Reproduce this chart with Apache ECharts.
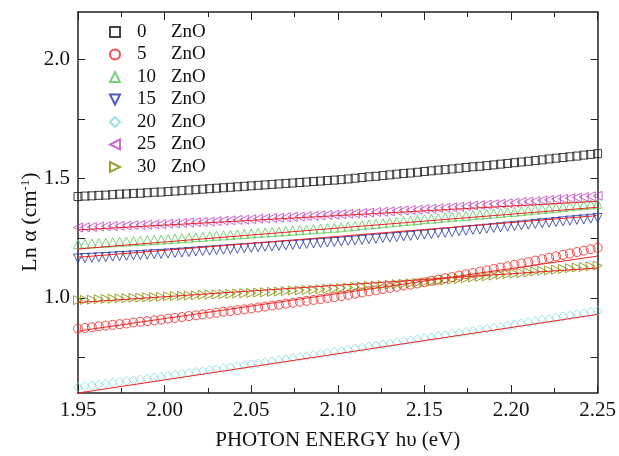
<!DOCTYPE html>
<html>
<head>
<meta charset="utf-8">
<script src="https://cdn.jsdelivr.net/npm/echarts@6/dist/echarts.min.js"></script>
<style>
  html, body { margin: 0; padding: 0; background: #fff; }
  #chart { width: 619px; height: 456px; }
</style>
</head>
<body>
<div id="chart"></div>
<script>
// photon energy (eV)
const energy = [
  1.950,1.954,1.958,1.962,1.966,1.970,1.974,1.978,1.982,1.986,1.990,1.994,1.998,
  2.002,2.006,2.010,2.014,2.018,2.022,2.026,2.030,2.034,2.038,2.042,2.046,
  2.050,2.054,2.058,2.062,2.066,2.070,2.074,2.078,2.082,2.086,2.090,2.094,2.098,
  2.102,2.106,2.110,2.114,2.118,2.122,2.126,2.130,2.134,2.138,2.142,2.146,
  2.150,2.154,2.158,2.162,2.166,2.170,2.174,2.178,2.182,2.186,2.190,2.194,2.198,
  2.202,2.206,2.210,2.214,2.218,2.222,2.226,2.230,2.234,2.238,2.242,2.246,2.250
];

const zno0 = [
  1.425,1.427,1.428,1.430,1.431,1.433,1.435,1.436,1.438,1.439,1.441,1.443,1.444,
  1.446,1.448,1.450,1.452,1.454,1.456,1.458,1.460,1.462,1.464,1.466,1.468,
  1.470,1.472,1.474,1.476,1.478,1.480,1.482,1.484,1.486,1.488,1.490,1.492,1.494,
  1.496,1.499,1.502,1.505,1.508,1.510,1.513,1.516,1.519,1.522,1.524,1.527,
  1.530,1.533,1.536,1.538,1.541,1.544,1.547,1.550,1.552,1.555,1.558,1.561,1.564,
  1.567,1.570,1.573,1.576,1.579,1.583,1.586,1.589,1.592,1.595,1.599,1.602,1.605
];
const zno5 = [
  0.870,0.873,0.876,0.880,0.883,0.886,0.889,0.892,0.896,0.899,0.902,0.905,0.908,
  0.912,0.915,0.919,0.923,0.926,0.930,0.933,0.937,0.941,0.944,0.948,0.951,
  0.955,0.959,0.963,0.967,0.971,0.975,0.979,0.983,0.987,0.991,0.995,0.999,1.003,
  1.007,1.012,1.017,1.022,1.027,1.031,1.036,1.041,1.046,1.051,1.055,1.060,
  1.065,1.071,1.076,1.082,1.087,1.093,1.099,1.104,1.110,1.115,1.121,1.127,1.132,
  1.138,1.144,1.150,1.156,1.162,1.168,1.174,1.180,1.186,1.192,1.198,1.204,1.210
];
const zno10 = [
  1.225,1.227,1.228,1.230,1.231,1.233,1.235,1.236,1.238,1.239,1.241,1.243,1.244,
  1.246,1.248,1.250,1.252,1.254,1.256,1.258,1.260,1.262,1.264,1.266,1.268,
  1.270,1.272,1.274,1.276,1.278,1.280,1.282,1.284,1.286,1.288,1.290,1.292,1.294,
  1.296,1.299,1.302,1.305,1.308,1.310,1.313,1.316,1.319,1.322,1.324,1.327,
  1.330,1.332,1.335,1.337,1.340,1.342,1.344,1.347,1.349,1.352,1.354,1.356,1.359,
  1.361,1.364,1.367,1.370,1.373,1.375,1.378,1.381,1.384,1.387,1.389,1.392,1.395
];
const zno15 = [
  1.165,1.167,1.168,1.170,1.171,1.173,1.175,1.176,1.178,1.179,1.181,1.183,1.184,
  1.186,1.188,1.190,1.192,1.194,1.196,1.198,1.200,1.202,1.204,1.206,1.208,
  1.210,1.212,1.214,1.216,1.218,1.220,1.222,1.224,1.226,1.228,1.230,1.232,1.234,
  1.236,1.239,1.241,1.243,1.246,1.248,1.251,1.253,1.255,1.258,1.260,1.263,
  1.265,1.268,1.271,1.273,1.276,1.279,1.282,1.285,1.287,1.290,1.293,1.296,1.299,
  1.301,1.304,1.307,1.310,1.313,1.315,1.318,1.321,1.324,1.327,1.329,1.332,1.335
];
const zno20 = [
  0.625,0.629,0.632,0.636,0.639,0.643,0.647,0.650,0.654,0.657,0.661,0.665,0.668,
  0.672,0.676,0.680,0.684,0.688,0.692,0.696,0.700,0.704,0.708,0.712,0.716,
  0.720,0.724,0.729,0.733,0.738,0.742,0.746,0.751,0.755,0.760,0.764,0.768,0.772,
  0.777,0.782,0.786,0.790,0.795,0.799,0.804,0.808,0.812,0.817,0.821,0.826,
  0.830,0.834,0.839,0.843,0.848,0.852,0.856,0.861,0.865,0.870,0.874,0.878,0.883,
  0.887,0.892,0.897,0.902,0.907,0.911,0.916,0.921,0.926,0.931,0.935,0.940,0.945
];
const zno25 = [
  1.295,1.296,1.297,1.299,1.300,1.301,1.302,1.303,1.305,1.306,1.307,1.308,1.309,
  1.311,1.312,1.314,1.316,1.317,1.319,1.320,1.322,1.324,1.325,1.327,1.328,
  1.330,1.332,1.333,1.335,1.336,1.338,1.340,1.341,1.343,1.344,1.346,1.348,1.349,
  1.351,1.353,1.354,1.356,1.358,1.360,1.361,1.363,1.365,1.367,1.369,1.370,
  1.372,1.374,1.376,1.378,1.380,1.382,1.384,1.387,1.389,1.391,1.393,1.395,1.397,
  1.399,1.402,1.404,1.406,1.409,1.411,1.414,1.416,1.418,1.421,1.423,1.426,1.428
];
const zno30 = [
  0.990,0.991,0.992,0.994,0.995,0.996,0.997,0.998,1.000,1.001,1.002,1.003,1.004,
  1.006,1.007,1.008,1.009,1.010,1.012,1.013,1.014,1.015,1.016,1.018,1.019,
  1.020,1.022,1.023,1.025,1.026,1.028,1.030,1.031,1.033,1.034,1.036,1.038,1.039,
  1.041,1.043,1.045,1.047,1.049,1.051,1.053,1.055,1.057,1.059,1.061,1.063,
  1.065,1.068,1.071,1.073,1.076,1.079,1.082,1.085,1.087,1.090,1.093,1.096,1.099,
  1.101,1.104,1.107,1.110,1.113,1.115,1.118,1.121,1.124,1.127,1.129,1.132,1.135
];

// linear fits: value at 1.95 eV and at 2.25 eV (none drawn for 0 ZnO)
const fitX = [1.95, 2.25];
const fitStart = [null, 0.860, 1.205, 1.170, 0.600, 1.285, 0.980];
const fitEnd   = [null, 1.175, 1.380, 1.345, 0.930, 1.405, 1.125];

const yTicks = [0.75, 1.0, 1.25, 1.5, 1.75, 2.0];
const yLabels = [1.0, 1.5, 2.0];

const names = ['0', '5', '10', '15', '20', '25', '30'];
const values = [zno0, zno5, zno10, zno15, zno20, zno25, zno30];
const colors = ['#111111', '#ee2222', '#55c855', '#2233aa', '#7fdcdc', '#c040c0', '#888800'];
const symbols = ['rect', 'circle', 'triangle', 'triangle', 'diamond', 'triangle', 'triangle'];
const rotations = [0, 0, 0, 180, 0, 90, -90];
const legendIcons = ['rect', 'circle', 'triangle',
  'path://M0,0L10,0L5,10Z', 'diamond',
  'path://M10,0L0,5L10,10Z', 'path://M0,0L10,5L0,10Z'];
const sizes = [8, 9, 9, 9, 9, 9, 9];

const font = 'Liberation Serif, Times New Roman, serif';

const series = [];
names.forEach((n, i) => {
  series.push({
    name: n,
    type: 'scatter',
    data: energy.map((x, j) => [x, values[i][j]]),
    symbol: symbols[i],
    symbolRotate: rotations[i],
    symbolSize: sizes[i],
    itemStyle: { color: 'rgba(0,0,0,0)', borderColor: colors[i], borderWidth: 1 },
    emphasis: { disabled: true },
    z: 2
  });
});
names.forEach((n, i) => {
  if (fitStart[i] === null) return;
  series.push({
    name: 'fit' + n,
    type: 'line',
    data: [[fitX[0], fitStart[i]], [fitX[1], fitEnd[i]]],
    showSymbol: false,
    lineStyle: { color: '#ee2222', width: 1 },
    emphasis: { disabled: true },
    z: 3
  });
});

const chart = echarts.init(document.getElementById('chart'));

const tickStyle = { color: '#222', width: 1 };
const axisLine = { onZero: false, lineStyle: { color: '#222', width: 1.5 } };

chart.setOption({
  animation: false,
  backgroundColor: '#fff',
  grid: { left: 78, right: 20, top: 12, bottom: 58 },
  // y axis title, placed by hand so it can sit a little below the middle
  graphic: [{
    type: 'text',
    x: 30,
    y: 222,
    rotation: Math.PI / 2,
    style: {
      text: '{t|Ln \u03b1 (cm}{s|-1}{t|)}',
      align: 'center',
      verticalAlign: 'middle',
      rich: {
        t: { fontFamily: font, fontSize: 22, fill: '#111' },
        s: { fontFamily: font, fontSize: 13, fill: '#111', verticalAlign: 'top', padding: [0, 0, 9, 0] }
      }
    }
  }],
  legend: {
    data: names.map((n, i) => ({ name: n, icon: legendIcons[i] })),
    orient: 'vertical',
    left: 104,
    top: 17,
    itemWidth: 10,
    itemHeight: 10,
    itemGap: 2.5,
    selectedMode: false,
    formatter: name => '{a|' + name + '}{b|ZnO}',
    textStyle: {
      fontFamily: font,
      fontSize: 19,
      color: '#111',
      lineHeight: 20,
      rich: {
        a: { fontFamily: font, fontSize: 19, width: 34, padding: [0, 0, 0, 12] },
        b: { fontFamily: font, fontSize: 19 }
      }
    }
  },
  xAxis: [
    {
      type: 'value',
      min: 1.95,
      max: 2.25,
      interval: 0.05,
      position: 'bottom',
      name: 'PHOTON ENERGY h\u03c5 (eV)',
      nameLocation: 'middle',
      nameGap: 37,
      nameTextStyle: { fontFamily: font, fontSize: 21, color: '#111' },
      axisLine: axisLine,
      axisTick: { inside: true, length: 8, lineStyle: tickStyle },
      minorTick: { show: true, splitNumber: 2, length: 5, lineStyle: tickStyle },
      axisLabel: {
        fontFamily: font, fontSize: 21, color: '#111', margin: 7,
        formatter: v => v.toFixed(2)
      },
      splitLine: { show: false }
    },
    {
      type: 'value',
      min: 1.95,
      max: 2.25,
      interval: 0.05,
      position: 'top',
      axisLine: axisLine,
      axisTick: { inside: true, length: 8, lineStyle: tickStyle },
      minorTick: { show: true, splitNumber: 2, length: 5, lineStyle: tickStyle },
      axisLabel: { show: false },
      splitLine: { show: false }
    }
  ],
  yAxis: [
    {
      type: 'value',
      min: 0.6,
      max: 2.2,
      position: 'left',
      axisLine: axisLine,
      axisTick: { inside: true, length: 7, lineStyle: tickStyle, customValues: yTicks },
      axisLabel: {
        fontFamily: font, fontSize: 21, color: '#111', margin: 8,
        customValues: yLabels,
        formatter: v => v.toFixed(1)
      },
      splitLine: { show: false }
    },
    {
      type: 'value',
      min: 0.6,
      max: 2.2,
      position: 'right',
      axisLine: axisLine,
      axisTick: { inside: true, length: 7, lineStyle: tickStyle, customValues: yTicks },
      axisLabel: { show: false },
      splitLine: { show: false }
    }
  ],
  series: series
});
</script>
</body>
</html>
